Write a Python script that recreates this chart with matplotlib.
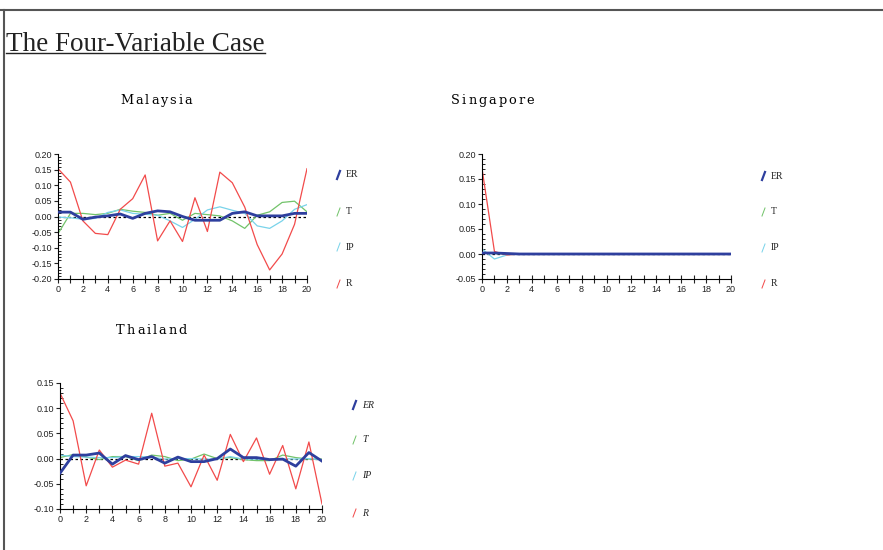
import numpy as np
import matplotlib.pyplot as plt
from matplotlib.lines import Line2D
from matplotlib.ticker import MultipleLocator

horizon = list(range(21))
series_names = ["ER", "T", "IP", "R"]

# impulse responses, Malaysia
my_er = [0.014, 0.014, -0.009, -0.002, 0.002, 0.008, -0.006, 0.010, 0.018, 0.015, 0.000,
         -0.012, -0.012, -0.012, 0.010, 0.015, 0.002, 0.002, 0.002, 0.010, 0.010]
my_t = [-0.055, 0.010, 0.010, 0.006, 0.010, 0.023, 0.017, 0.013, 0.004, 0.010, -0.012,
        0.010, 0.006, 0.002, -0.014, -0.038, 0.004, 0.015, 0.045, 0.049, 0.015]
my_ip = [-0.002, -0.004, -0.009, -0.006, 0.013, 0.021, 0.010, 0.007, 0.004, -0.014, -0.035,
         -0.009, 0.021, 0.031, 0.020, 0.010, -0.030, -0.038, -0.014, 0.023, 0.038]
my_r = [0.153, 0.110, -0.014, -0.054, -0.058, 0.023, 0.057, 0.133, -0.078, -0.014, -0.080,
        0.060, -0.048, 0.142, 0.108, 0.030, -0.090, -0.171, -0.120, -0.025, 0.153]

# Singapore
sg_er = [0.002, 0.002, 0.001] + [0.0] * 18
sg_t = [0.003, 0.001, 0.000] + [0.0] * 18
sg_ip = [0.010, -0.010, -0.002] + [0.0] * 18
sg_r = [0.171, 0.005, -0.002] + [0.0] * 18

# Thailand
th_er = [-0.029, 0.007, 0.007, 0.011, -0.011, 0.006, -0.002, 0.004, -0.009, 0.003, -0.006,
         -0.006, 0.000, 0.019, 0.002, 0.002, -0.002, -0.001, -0.015, 0.012, -0.005]
th_t = [0.002, 0.008, 0.003, -0.002, 0.004, 0.004, -0.004, 0.007, 0.004, -0.004, -0.001,
        0.009, 0.000, 0.002, -0.002, -0.004, -0.004, 0.007, 0.002, -0.001, -0.001]
th_ip = [0.007, 0.004, 0.003, 0.002, 0.002, 0.004, 0.004, 0.003, -0.001, 0.000, 0.000,
         -0.001, -0.001, 0.004, -0.001, -0.001, -0.002, 0.000, -0.001, 0.000, -0.002]
th_r = [0.130, 0.075, -0.054, 0.017, -0.017, -0.003, -0.011, 0.090, -0.015, -0.009, -0.056,
        0.007, -0.043, 0.048, -0.006, 0.041, -0.031, 0.026, -0.060, 0.033, -0.090]

colors = {"ER": "#2e3f9e", "T": "#72c36a", "IP": "#79d3ea", "R": "#f24b4b"}
widths = {"ER": 2.0, "T": 0.9, "IP": 0.9, "R": 0.9}

W, H = 883, 550
fig = plt.figure(figsize=(W / 100, H / 100), dpi=100)
renderer = fig.canvas.get_renderer()


def px(x, y):
    return x / W, 1 - y / H


def spaced_text(x, y, s, gap=2.0, **kw):
    # draw a string letter by letter with extra tracking (pixel units)
    for ch in s:
        fx, fy = px(x, y)
        t = fig.text(fx, fy, ch, ha="left", va="center", **kw)
        x += t.get_window_extent(renderer).width + gap


def panel(rect, data, ylim, ystep, title, title_xy, leg_x, leg_ys, italic=False):
    l, t, r, b = rect
    ax = fig.add_axes([l / W, 1 - b / H, (r - l) / W, (b - t) / H])
    ax.axhline(0, color="black", lw=0.9, ls=(0, (2, 2)), zorder=1)
    for name, vals in zip(series_names, data):
        ax.plot(horizon, vals, color=colors[name], lw=widths[name],
                zorder=3 if name == "ER" else 2)
    ax.set_xlim(0, 20)
    ax.set_ylim(*ylim)
    ax.xaxis.set_major_locator(MultipleLocator(2))
    ax.xaxis.set_minor_locator(MultipleLocator(1))
    ax.yaxis.set_major_locator(MultipleLocator(ystep))
    ax.yaxis.set_minor_locator(MultipleLocator(0.01))
    ax.yaxis.set_major_formatter(lambda v, p: f"{v:.2f}")
    for s in ("top", "right"):
        ax.spines[s].set_visible(False)
    for s in ("left", "bottom"):
        ax.spines[s].set_linewidth(0.8)
    ax.tick_params(axis="x", which="both", direction="inout", length=6, width=0.8,
                   labelsize=6.5, pad=1, colors="#222222")
    ax.tick_params(axis="y", which="major", direction="out", length=3, width=0.8,
                   labelsize=6.5, pad=1, colors="#222222")
    ax.tick_params(axis="y", which="minor", direction="in", length=2, width=0.6)
    for lab in ax.get_xticklabels() + ax.get_yticklabels():
        lab.set_family("Liberation Sans")

    spaced_text(*title_xy, title, family="DejaVu Serif", fontsize=9.3,
                color="#000000")

    # legend: short slanted strokes with labels
    for name, ly in zip(series_names, leg_ys):
        x0, y0 = px(leg_x, ly + 4)
        x1, y1 = px(leg_x + 3, ly - 4)
        fig.add_artist(Line2D([x0, x1], [y0, y1], color=colors[name],
                              lw=widths[name] * 0.8, transform=fig.transFigure))
        lx, lyy = px(leg_x + 9, ly)
        fig.text(lx, lyy, name, ha="left", va="center", family="Liberation Serif",
                 fontsize=7, style="italic" if italic else "normal", color="#222222")
    return ax


panel((58, 154, 307, 279), [my_er, my_t, my_ip, my_r], (-0.20, 0.20), 0.05,
      "Malaysia", (120, 100), 337, [175, 212, 247, 284])
panel((482, 154, 731, 279), [sg_er, sg_t, sg_ip, sg_r], (-0.05, 0.20), 0.05,
      "Singapore", (451, 100), 762, [176, 212, 248, 284])
panel((60, 383, 322, 509), [th_er, th_t, th_ip, th_r], (-0.10, 0.15), 0.05,
      "Thailand", (116, 330), 353, [405, 440, 476, 513], italic=True)

# slide frame and heading
fig.add_artist(Line2D([0, 1], [1 - 10 / H, 1 - 10 / H], color="#555555", lw=1.5,
                      transform=fig.transFigure))
fig.add_artist(Line2D([4 / W, 4 / W], [0, 1 - 10 / H], color="#555555", lw=1.5,
                      transform=fig.transFigure))
hx, hy = px(6, 51)
fig.text(hx, hy, "The Four-Variable Case", ha="left", va="baseline",
         family="Liberation Serif", fontsize=19.5, color="#222222")
fig.add_artist(Line2D([6 / W, 265 / W], [1 - 53 / H, 1 - 53 / H], color="#222222", lw=1,
                      transform=fig.transFigure))

fig.savefig("out.png", dpi=100)
